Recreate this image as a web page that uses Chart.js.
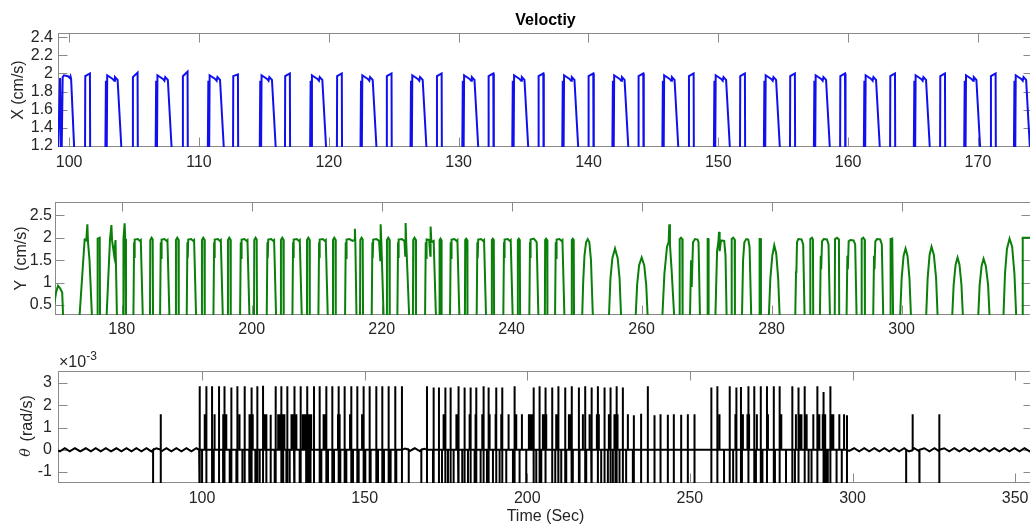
<!DOCTYPE html>
<html><head><meta charset="utf-8">
<script src="https://cdn.jsdelivr.net/npm/chart.js@4.4.1/dist/chart.umd.min.js"></script>
<style>
html,body{margin:0;padding:0;background:#fff;overflow:hidden;width:1030px;height:526px;position:relative;}
.panel{position:absolute;left:0;}
canvas{display:block;}
</style></head><body>
<div class="panel" style="top:0px"><canvas id="c1" width="1040" height="180"></canvas></div>
<div class="panel" style="top:180px"><canvas id="c2" width="1040" height="170"></canvas></div>
<div class="panel" style="top:350px"><canvas id="c3" width="1040" height="176"></canvas></div>
<script>
// ---------------- DATA ----------------
const chartTitle = 'Veloctiy';
const xAxisTitle = 'Time (Sec)';
const yTitles = ['X (cm/s)', 'Y  (cm/s)', '(rad/s)'];

const xTicksX = [100,110,120,130,140,150,160,170];
const yTicksX = [1.2,1.4,1.6,1.8,2,2.2,2.4];
const yTickLabelsX = ['1.2','1.4','1.6','1.8','2','2.2','2.4'];
const xTicksY = [180,200,220,240,260,280,300];
const yTicksY = [0.5,1,1.5,2,2.5];
const yTickLabelsY = ['0.5','1','1.5','2','2.5'];
const xTicksT = [100,150,200,250,300,350];
const yTicksT = [-1,0,1,2,3];
const yTickLabelsT = ['-1','0','1','2','3'];

// X velocity (cm/s): [time s, value]
const xVelocity = [
[99.14,1.10],[99.30,1.95],[99.40,0.90],[99.50,1.96],[99.60,1.98],[99.90,1.97],[100.05,1.95],[100.10,1.97],[100.15,1.94],[100.75,0],
[101.20,0],[101.24,1.97],[101.60,2.00],[101.64,0],
[102.73,0],[102.83,1.92],[102.87,0.60],[102.93,1.98],[103.35,1.94],[103.47,1.92],[103.53,1.96],[103.73,1.93],[104.48,0],
[104.87,0],[104.91,1.96],[105.27,2.01],[105.31,0],
[106.60,0],[106.70,1.92],[106.74,0.60],[106.80,1.98],[107.22,1.94],[107.34,1.92],[107.40,1.96],[107.60,1.93],[108.35,0],
[108.72,0],[108.76,1.97],[109.12,2.02],[109.16,0],
[110.62,0],[110.72,1.92],[110.76,0.60],[110.82,1.98],[111.24,1.94],[111.36,1.92],[111.42,1.96],[111.62,1.93],[112.37,0],
[112.60,0],[112.64,1.97],[113.00,1.99],[113.04,0],
[114.62,0],[114.72,1.92],[114.76,0.60],[114.82,1.98],[115.24,1.94],[115.36,1.92],[115.42,1.96],[115.62,1.93],[116.37,0],
[116.60,0],[116.64,1.97],[117.00,2.00],[117.04,0],
[118.50,0],[118.60,1.92],[118.64,0.60],[118.70,1.98],[119.12,1.94],[119.24,1.92],[119.30,1.96],[119.50,1.93],[120.25,0],
[120.60,0],[120.64,1.97],[121.00,2.00],[121.04,0],
[122.38,0],[122.48,1.92],[122.52,0.60],[122.58,1.98],[123.00,1.94],[123.12,1.92],[123.18,1.96],[123.38,1.93],[124.13,0],
[124.43,0],[124.47,1.97],[124.83,2.00],[124.87,0],
[126.23,0],[126.33,1.92],[126.37,0.60],[126.43,1.98],[126.85,1.94],[126.97,1.92],[127.03,1.96],[127.23,1.93],[127.98,0],
[128.29,0],[128.33,1.97],[128.69,2.00],[128.73,0],
[130.22,0],[130.32,1.92],[130.36,0.60],[130.42,1.98],[130.84,1.94],[130.96,1.92],[131.02,1.96],[131.22,1.93],[131.97,0],
[132.27,0],[132.31,1.97],[132.67,2.00],[132.71,0],
[134.07,0],[134.17,1.92],[134.21,0.60],[134.27,1.98],[134.69,1.94],[134.81,1.92],[134.87,1.96],[135.07,1.93],[135.82,0],
[136.12,0],[136.16,1.97],[136.52,2.00],[136.56,0],
[137.92,0],[138.02,1.92],[138.06,0.60],[138.12,1.98],[138.54,1.94],[138.66,1.92],[138.72,1.96],[138.92,1.93],[139.67,0],
[139.97,0],[140.01,1.97],[140.37,2.00],[140.41,0],
[141.78,0],[141.88,1.92],[141.92,0.60],[141.98,1.98],[142.40,1.94],[142.52,1.92],[142.58,1.96],[142.78,1.93],[143.53,0],
[143.82,0],[143.86,1.97],[144.22,2.00],[144.26,0],
[145.63,0],[145.73,1.92],[145.77,0.60],[145.83,1.98],[146.25,1.94],[146.37,1.92],[146.43,1.96],[146.63,1.93],[147.38,0],
[147.70,0],[147.74,1.97],[148.10,2.00],[148.14,0],
[149.60,0],[149.70,1.92],[149.74,0.60],[149.80,1.98],[150.22,1.94],[150.34,1.92],[150.40,1.96],[150.60,1.93],[151.35,0],
[151.65,0],[151.69,1.97],[152.05,2.00],[152.09,0],
[153.45,0],[153.55,1.92],[153.59,0.60],[153.65,1.98],[154.07,1.94],[154.19,1.92],[154.25,1.96],[154.45,1.93],[155.20,0],
[155.50,0],[155.54,1.97],[155.90,2.00],[155.94,0],
[157.30,0],[157.40,1.92],[157.44,0.60],[157.50,1.98],[157.92,1.94],[158.04,1.92],[158.10,1.96],[158.30,1.93],[159.05,0],
[159.36,0],[159.40,1.97],[159.76,2.00],[159.80,0],
[161.15,0],[161.25,1.92],[161.29,0.60],[161.35,1.98],[161.77,1.94],[161.89,1.92],[161.95,1.96],[162.15,1.93],[162.90,0],
[163.21,0],[163.25,1.97],[163.61,2.00],[163.65,0],
[165.00,0],[165.10,1.92],[165.14,0.60],[165.20,1.98],[165.62,1.94],[165.74,1.92],[165.80,1.96],[166.00,1.93],[166.75,0],
[167.06,0],[167.10,1.97],[167.46,2.00],[167.50,0],
[168.88,0],[168.98,1.92],[169.02,0.60],[169.08,1.98],[169.50,1.94],[169.62,1.92],[169.68,1.96],[169.88,1.93],[170.63,0],
[170.96,0],[171.00,1.97],[171.36,2.00],[171.40,0],
[172.71,0],[172.81,1.92],[172.85,0.60],[172.91,1.98],[173.33,1.94],[173.45,1.92],[173.51,1.96],[173.71,1.93],[174.46,0]
];

// Y velocity (cm/s): [time s, value]
const yVelocity = [
[169.6,0.50],[169.9,0.78],[170.2,0.93],[170.5,0.88],[170.85,0.78],[171.05,0],
[173.4,0],[174.3,1.96],[174.55,1.94],[174.72,2.30],[174.82,1.90],[175.05,1.50],[175.5,0],
[176.25,0],[176.3,1.98],[176.62,2.00],[176.68,0],
[177.6,0],[178.2,1.96],[178.42,2.28],[178.52,1.94],[178.85,1.60],[179.05,1.95],[179.3,0],
[180.22,0],[180.27,1.97],[180.45,2.32],[180.55,1.97],[180.66,0],
[181.79,0],[181.91,1.90],[181.96,1.55],[182.04,1.96],[182.49,1.97],[182.79,1.93],[182.94,1.95],[183.29,0],
[184.35,0],[184.40,1.95],[184.60,2.00],[184.77,1.96],[184.83,0],
[185.89,0],[186.01,1.90],[186.06,1.55],[186.14,1.96],[186.59,1.97],[186.89,1.93],[187.04,1.95],[187.39,0],
[188.30,0],[188.35,1.95],[188.55,2.00],[188.72,1.96],[188.78,0],
[189.99,0],[190.11,1.90],[190.16,1.55],[190.24,1.96],[190.69,1.97],[190.99,1.93],[191.14,1.95],[191.49,0],
[192.30,0],[192.35,1.95],[192.55,2.00],[192.72,1.96],[192.78,0],
[194.10,0],[194.22,1.90],[194.27,1.55],[194.35,1.96],[194.80,1.97],[195.10,1.93],[195.25,1.95],[195.60,0],
[196.30,0],[196.35,1.95],[196.55,2.00],[196.72,1.96],[196.78,0],
[198.20,0],[198.32,1.90],[198.37,1.55],[198.45,1.96],[198.90,1.97],[199.20,1.93],[199.35,1.95],[199.70,0],
[200.35,0],[200.40,1.95],[200.60,2.00],[200.77,1.96],[200.83,0],
[202.30,0],[202.42,1.90],[202.47,1.55],[202.55,1.96],[203.00,1.97],[203.30,1.93],[203.45,1.95],[203.80,0],
[204.45,0],[204.50,1.95],[204.70,2.00],[204.87,1.96],[204.93,0],
[206.25,0],[206.37,1.90],[206.42,1.55],[206.50,1.96],[206.95,1.97],[207.25,1.93],[207.40,1.95],[207.75,0],
[208.46,0],[208.51,1.95],[208.71,2.00],[208.88,1.96],[208.94,0],
[210.25,0],[210.37,1.90],[210.42,1.55],[210.50,1.96],[210.95,1.97],[211.25,1.93],[211.40,1.95],[211.75,0],
[212.46,0],[212.51,1.95],[212.71,2.00],[212.88,1.96],[212.94,0],
[214.35,0],[214.47,1.90],[214.52,1.55],[214.60,1.96],[215.05,1.97],[215.50,1.93],[215.82,1.95],[215.88,2.20],[215.95,1.90],[216.15,0],
[216.66,0],[216.71,1.95],[216.91,2.00],[217.08,1.96],[217.14,0],
[218.45,0],[218.57,1.90],[218.62,1.55],[218.70,1.96],[219.20,1.97],[219.60,1.93],[219.78,1.50],[219.84,2.30],[219.95,1.90],[220.35,0],
[220.76,0],[220.81,1.95],[221.01,2.00],[221.18,1.96],[221.24,0],
[222.40,0],[222.52,1.90],[222.57,1.55],[222.65,1.96],[223.10,1.97],[223.50,1.93],[223.62,1.60],[223.68,2.33],[223.78,1.90],[224.30,0],
[224.80,0],[224.85,1.95],[225.05,2.00],[225.22,1.96],[225.28,0],
[226.66,0],[226.78,1.90],[226.83,1.55],[226.91,1.96],[227.30,1.95],[227.48,1.60],[227.53,2.25],[227.65,1.90],[228.00,1.93],[228.40,0],
[228.86,0],[228.91,1.95],[229.05,1.98],[229.18,1.95],[229.22,0],
[230.50,0],[230.62,1.90],[230.67,1.55],[230.75,1.96],[231.20,1.97],[231.50,1.93],[231.65,1.95],[232.00,0],
[232.80,0],[232.85,1.95],[233.00,1.98],[233.15,1.95],[233.20,0],
[234.60,0],[234.72,1.90],[234.77,1.55],[234.85,1.96],[235.30,1.97],[235.60,1.93],[235.75,1.95],[236.10,0],
[236.90,0],[236.95,1.95],[237.10,1.98],[237.25,1.95],[237.30,0],
[238.70,0],[238.82,1.90],[238.87,1.55],[238.95,1.96],[239.40,1.97],[239.70,1.93],[239.85,1.95],[240.20,0],
[240.90,0],[240.95,1.95],[241.10,1.98],[241.25,1.95],[241.30,0],
[242.70,0],[242.82,1.90],[242.87,1.55],[242.95,1.96],[243.40,1.98],[243.70,1.93],[243.85,1.90],[244.15,0],
[245.10,0],[245.15,1.95],[245.30,1.98],[245.45,1.95],[245.50,0],
[246.66,0],[246.78,1.90],[246.83,1.55],[246.91,1.96],[247.36,1.97],[247.66,1.93],[247.81,1.95],[248.16,0],
[249.20,0],[249.25,1.95],[249.40,1.98],[249.55,1.95],[249.60,0],
[250.80,0],[251.00,1.00],[251.20,1.60],[251.45,1.90],[251.70,1.97],[251.95,1.90],[252.20,1.50],[252.55,0],
[254.90,0],[255.20,1.10],[255.50,1.55],[255.90,1.76],[256.30,1.55],[256.60,1.10],[256.90,0],
[259.00,0],[259.30,0.95],[259.60,1.38],[260.00,1.56],[260.40,1.38],[260.70,0.95],[261.00,0],
[263.10,0],[263.50,1.20],[263.90,1.80],[264.15,1.90],[264.25,2.30],[264.35,1.85],[264.60,1.30],[265.10,0],
[265.80,0],[265.85,1.97],[266.05,2.00],[266.25,1.97],[266.30,0],
[267.40,0],[267.60,1.50],[267.70,0.90],[267.90,1.90],[268.20,1.97],[268.60,1.96],[268.75,1.90],[269.00,0],
[270.10,0],[270.15,1.97],[270.25,1.97],[270.30,0],
[271.30,0],[271.60,1.70],[271.80,1.90],[271.90,2.13],[272.00,1.70],[272.20,1.94],[272.70,1.93],[272.90,1.60],[273.10,0],
[273.80,0],[273.85,1.97],[274.10,2.00],[274.30,1.96],[274.35,0],
[275.40,0],[275.60,1.50],[275.80,1.90],[276.10,1.97],[276.40,1.96],[276.60,1.80],[276.90,0],
[278.10,0],[278.15,1.97],[278.30,1.97],[278.35,0],
[279.50,0],[279.80,1.10],[280.10,1.60],[280.40,1.83],[280.70,1.65],[281.00,1.10],[281.30,0],
[283.60,0],[283.75,1.25],[283.80,1.20],[283.90,1.90],[284.10,1.97],[284.60,1.96],[284.85,1.85],[285.10,0],
[285.90,0],[285.95,1.97],[286.20,2.00],[286.35,1.96],[286.40,0],
[287.40,0],[287.55,1.60],[287.62,1.30],[287.75,1.92],[288.00,1.97],[288.50,1.96],[288.75,1.85],[289.00,0],
[289.70,0],[289.75,1.97],[290.05,2.00],[290.35,1.96],[290.40,0],
[291.50,0],[291.65,1.60],[291.72,1.30],[291.85,1.92],[292.10,1.95],[292.60,1.94],[292.85,1.85],[293.10,0],
[293.80,0],[293.85,1.97],[294.10,2.00],[294.30,1.96],[294.35,0],
[295.60,0],[295.75,1.60],[295.82,1.30],[295.95,1.92],[296.20,1.97],[296.70,1.96],[296.95,1.85],[297.20,0],
[298.25,0],[298.30,1.97],[298.55,1.98],[298.70,0],
[299.70,0],[300.00,1.10],[300.30,1.60],[300.60,1.76],[300.90,1.60],[301.20,1.10],[301.50,0],
[303.70,0],[304.00,1.10],[304.30,1.62],[304.60,1.80],[304.95,1.62],[305.30,1.10],[305.60,0],
[307.70,0],[308.00,0.95],[308.30,1.40],[308.60,1.56],[308.90,1.40],[309.20,0.95],[309.50,0],
[311.70,0],[312.00,0.95],[312.30,1.37],[312.60,1.53],[312.95,1.37],[313.30,0.95],[313.60,0],
[315.60,0],[315.90,1.20],[316.20,1.75],[316.60,1.98],[317.00,1.80],[317.35,1.20],[317.70,0],
[318.60,0],[318.63,2.00],[320.00,2.00]
];

// theta velocity (x10^-3 rad/s)
const thetaBaseline = [
[55.7,-0.02],[56.3,-0.07],[57.8,0.07],[59.3,-0.07],[60.9,0.07],[62.55,-0.07],[64.25,0.07],[65.8,-0.07],[67.3,0.07],[68.85,-0.07],
[70.4,0.07],[72.0,-0.07],[73.65,0.07],[75.2,-0.07],[76.75,0.07],[78.3,-0.07],[79.8,0.07],[81.35,-0.07],[82.9,0.07],[84.4,-0.07],
[85.95,0.07],[87.5,-0.07],[89.05,0.07],[90.55,-0.07],[92.1,0.07],[93.65,-0.07],[95.2,0.07],[96.7,-0.07],[98.25,0.07],[99.1,0],
[162.4,0.06],[163.9,-0.05],[165.4,0.07],[166.9,-0.06],[168.4,0.05],
[299.0,-0.05],[300.5,0.07],[302.05,-0.07],[303.6,0.07],[305.15,-0.07],[306.7,0.07],[308.25,-0.07],[309.8,0.07],[311.3,-0.07],
[312.8,0.07],[314.35,-0.07],[315.9,0.07],[317.45,-0.07],[319.0,0.07],[320.55,-0.07],[322.1,0.07],[323.65,-0.07],[325.2,0.07],
[326.7,-0.07],[328.2,0.07],[329.75,-0.07],[331.3,0.07],[332.85,-0.07],[334.4,0.07],[335.95,-0.07],[337.5,0.07],[339.05,-0.07],
[340.6,0.07],[342.1,-0.07],[343.6,0.07],[345.15,-0.07],[346.7,0.07],[348.25,-0.07],[349.8,0.07],[351.35,-0.07],[352.9,0.07],
[354.45,-0.07],[355.6,0.02]
];
// spikes that run from below the axis up to the given peak
const thetaFullSpikes = [
[87.3,1.60],
[99.28,2.85],[101.33,2.85],[103.07,2.85],[105.22,2.85],[106.97,2.85],[109.01,2.80],[110.86,2.85],[113.11,2.85],[115.16,2.80],[117.00,2.85],
[118.75,2.88],[119.77,1.60],[121.10,1.58],[122.64,2.85],[124.38,2.85],[126.22,2.85],[128.27,2.85],[130.32,2.85],[132.37,2.85],[134.42,2.85],
[136.16,2.85],[138.21,2.85],[140.05,2.85],[142.00,2.85],[143.84,2.85],[145.89,2.85],[147.74,2.85],[149.68,2.85],[151.53,2.85],[153.58,2.85],
[155.42,2.85],[157.37,2.85],[159.41,2.85],[161.46,2.85],
[169.16,2.85],[171.21,2.80],[172.84,2.80],[174.79,2.80],[176.43,2.80],[178.89,2.85],[180.73,2.80],[182.58,2.80],[184.32,2.80],[186.57,2.85],
[188.11,2.80],[190.46,2.80],[192.31,2.80],[196.10,2.85],[201.94,2.80],[203.78,2.85],[205.62,2.80],[207.67,2.80],[209.52,2.85],[211.67,2.80],
[213.72,2.85],[215.87,2.80],[217.81,2.85],[219.86,2.80],[221.71,2.85],[223.76,2.80],[225.60,2.80],[227.55,2.85],[229.39,2.80],
[232.77,1.55],[235.00,1.62],[237.07,2.85],[239.12,1.55],[240.97,1.60],[243.22,1.58],[245.06,1.60],[247.32,1.58],[249.37,1.60],[251.42,1.60],
[256.60,2.80],[258.45,2.85],[262.25,2.85],[264.30,2.80],[265.70,2.82],[268.00,2.85],[269.80,2.85],[271.80,2.85],[273.70,2.85],[275.80,2.85],
[277.60,2.85],[281.50,2.85],[283.40,2.80],[285.30,2.85],[289.20,2.85],[291.10,2.60],[293.20,2.85],[298.30,1.55],
[326.70,1.60]
];
// spikes from the baseline up to the given peak
const thetaUpSpikes = [
[100.82,1.60],[101.05,1.60],[103.69,1.60],[103.95,1.60],[106.55,1.60],[106.76,1.60],[107.27,1.60],[107.45,1.60],[111.37,1.60],[111.60,1.60],
[114.50,1.60],[114.96,1.60],[115.30,1.60],[115.47,1.60],[115.65,1.60],[119.20,1.60],[123.40,1.60],[123.66,1.60],[123.90,1.60],[124.60,1.60],
[125.00,1.60],[125.20,1.60],[125.40,1.60],[127.50,1.60],[127.76,1.60],[128.00,1.60],[128.50,1.60],[128.78,1.60],[129.00,1.60],[131.00,1.60],
[131.30,1.60],[131.55,1.60],[131.80,1.60],[132.00,1.60],[132.27,1.60],[132.60,1.60],[133.00,1.60],[133.29,1.60],[133.55,1.60],[137.20,1.60],
[137.49,1.60],[137.75,1.60],[138.00,1.60],[141.79,1.60],[142.30,1.60],[145.50,1.60],[149.20,1.60],
[174.10,1.60],[174.38,1.60],[174.60,1.60],[174.85,1.60],[178.20,1.60],[178.48,1.60],[178.70,1.60],[178.95,1.60],[182.27,1.60],[184.10,1.60],
[186.16,1.60],[188.42,1.60],[190.26,1.60],[192.00,1.60],[194.25,1.60],[196.61,1.60],[198.35,1.60],[200.50,1.60],[200.71,1.60],[201.00,1.60],
[201.30,1.60],[201.73,1.60],[202.00,1.60],[204.80,1.60],[205.01,1.60],[205.30,1.60],[205.60,1.60],[205.83,1.60],[208.90,1.60],[209.15,1.60],
[209.40,1.60],[209.62,1.60],[212.80,1.60],[213.00,1.60],[213.30,1.60],[213.60,1.60],[217.10,1.60],[219.15,1.60],[221.40,1.60],[222.00,1.60],
[225.09,1.60],[226.80,1.60],[227.10,1.60],[227.34,1.60],[227.60,1.60],[227.85,1.60],[230.93,1.60],
[259.10,1.60],[264.00,1.60],[266.30,1.60],[267.70,1.60],[268.20,1.60],[270.60,1.60],[274.00,1.60],[278.10,1.60],[282.60,1.60],[284.00,1.60],
[284.30,1.60],[285.90,1.60],[287.95,1.60],[289.80,1.60],[290.85,1.60],[291.60,1.60],[293.50,1.60],[294.10,1.60],[295.95,1.60],[297.40,1.60],
[318.50,1.60]
];
// spikes from the baseline down past the axis bottom
const thetaDownSpikes = [
84.94,100.00,103.59,106.45,108.50,110.55,112.40,114.65,116.39,117.72,122.33,124.89,125.92,126.94,128.48,130.01,132.06,132.78,133.39,
136.67,138.72,140.57,142.51,144.36,146.40,148.15,150.19,151.83,154.09,155.93,157.98,159.72,163.55,167.42,171.00,173.77,175.61,177.35,
180.00,181.76,183.80,185.65,187.60,189.44,191.49,193.54,195.59,197.63,199.68,202.76,204.30,208.60,210.44,211.98,214.00,216.07,218.12,
219.66,222.73,224.78,226.32,227.14,228.36,230.40,232.46,260.50,263.30,266.00,270.30,272.30,276.15,279.55,282.30,286.50,287.40,291.40,
292.00,292.40,295.10,296.70,316.50,320.60
];
const thetaBelow = -3;

// ---------------- BUILD ----------------
const toXY = arr => arr.map(p => ({x: p[0], y: p[1]}));
function buildTheta() {
  const items = [];
  thetaBaseline.forEach(p => items.push({t: p[0], pts: [p]}));
  thetaFullSpikes.forEach(([t, h]) => items.push({t, pts: [[t, 0], [t, thetaBelow], [t, h], [t, 0]]}));
  thetaUpSpikes.forEach(([t, h]) => items.push({t, pts: [[t, 0], [t, h], [t, 0]]}));
  thetaDownSpikes.forEach(t => items.push({t, pts: [[t, 0], [t, thetaBelow], [t, 0]]}));
  items.sort((a, b) => a.t - b.t);
  return toXY(items.flatMap(i => i.pts));
}

const FONT_FAMILY = "'Liberation Sans', Arial, Helvetica, sans-serif";
const TXT = '#262626';
const AXIS = '#8a8a8a';
const TICK_LEN = 9;

const boxPlugin = {
  id: 'matlabBox',
  beforeDatasetsDraw(chart) {
    const {ctx, chartArea: a} = chart;
    const xs = chart.scales.x, ys = chart.scales.y;
    const L = Math.round(a.left) + 0.5, R = Math.round(a.right) - 0.5;
    const T = Math.round(a.top) + 0.5, B = Math.round(a.bottom) - 0.5;
    ctx.save();
    ctx.strokeStyle = AXIS; ctx.lineWidth = 1;
    ctx.strokeRect(L, T, R - L, B - T);
    ctx.beginPath();
    xs.ticks.forEach(t => {
      const p = Math.round(xs.getPixelForValue(t.value)) + 0.5;
      ctx.moveTo(p, T); ctx.lineTo(p, T + TICK_LEN);
      ctx.moveTo(p, B); ctx.lineTo(p, B - TICK_LEN);
    });
    ys.ticks.forEach(t => {
      const p = Math.round(ys.getPixelForValue(t.value)) + 0.5;
      ctx.moveTo(L, p); ctx.lineTo(L + TICK_LEN, p);
      ctx.moveTo(R, p); ctx.lineTo(R - TICK_LEN, p);
    });
    ctx.stroke();
    ctx.restore();
  }
};

const thetaTextPlugin = {
  id: 'thetaText',
  afterDraw(chart) {
    const ctx = chart.ctx;
    ctx.save();
    ctx.fillStyle = TXT;
    ctx.textBaseline = 'alphabetic';
    ctx.font = '16px ' + FONT_FAMILY;
    ctx.fillText('\u00d710', 59, 17);
    const w = ctx.measureText('\u00d710').width;
    ctx.font = '12px ' + FONT_FAMILY;
    ctx.fillText('-3', 59 + w, 10);
    // rotated y label: italic theta + (rad/s)
    ctx.translate(28, 76);
    ctx.rotate(-Math.PI / 2);
    ctx.textBaseline = 'middle';
    ctx.font = 'italic 14px "DejaVu Serif", serif';
    const wt = ctx.measureText('\u03b8').width;
    ctx.font = '16px ' + FONT_FAMILY;
    const wr = ctx.measureText(yTitles[2]).width;
    const gap = 7;
    const x0 = -(wt + gap + wr) / 2;
    ctx.font = 'italic 14px "DejaVu Serif", serif';
    ctx.fillText('\u03b8', x0, -2);
    ctx.font = '16px ' + FONT_FAMILY;
    ctx.fillText(yTitles[2], x0 + wt + gap, 0);
    ctx.restore();
  }
};

function makePanel(id, c) {
  return new Chart(document.getElementById(id), {
    type: 'line',
    data: {datasets: [{data: c.points, borderColor: c.color, borderWidth: c.lw, pointRadius: 0, tension: 0, clip: 0, fill: false}]},
    options: {
      responsive: false, animation: false, devicePixelRatio: 1,
      layout: {padding: c.padding},
      events: [],
      plugins: {legend: {display: false}, tooltip: {enabled: false}, title: c.title || {display: false}},
      scales: {
        x: {
          type: 'linear', min: c.xMin, max: c.xMax,
          grid: {display: false, drawTicks: false}, border: {display: false},
          ticks: {autoSkip: false, maxRotation: 0, padding: c.xPad, color: TXT, font: {family: FONT_FAMILY, size: 16}, callback: v => String(v)},
          afterBuildTicks: s => { s.ticks = c.xTicks.map(v => ({value: v})); },
          afterFit: s => { s.height = c.xAxisH; },
          title: c.xTitle || {display: false}
        },
        y: {
          type: 'linear', min: c.yMin, max: c.yMax,
          grid: {display: false, drawTicks: false}, border: {display: false},
          ticks: {autoSkip: false, padding: c.yPad, color: TXT, font: {family: FONT_FAMILY, size: 16}, callback: (v, i) => c.yLabels[i]},
          afterBuildTicks: s => { s.ticks = c.yTicks.map(v => ({value: v})); },
          afterFit: s => { s.width = c.yAxisW; },
          title: c.yTitle || {display: false}
        }
      }
    },
    plugins: [boxPlugin].concat(c.extra || [])
  });
}

makePanel('c1', {
  points: toXY(xVelocity), color: '#1010ee', lw: 2,
  xMin: 99.14, xMax: 174.24, yMin: 1.189, yMax: 2.444,
  xTicks: xTicksX, yTicks: yTicksX, yLabels: yTickLabelsX,
  padding: {top: 0, right: 7, bottom: 0, left: 0}, xAxisH: 33, yAxisW: 58, xPad: 6, yPad: 5,
  title: {display: true, text: chartTitle, fullSize: false, color: '#000', font: {family: FONT_FAMILY, size: 16, weight: 'bold'}, padding: {top: 11, bottom: 3}},
  yTitle: {display: true, text: yTitles[0], color: TXT, font: {family: FONT_FAMILY, size: 16}, padding: {top: 9, bottom: 0}}
});

makePanel('c2', {
  points: toXY(yVelocity), color: '#0a800a', lw: 2,
  xMin: 169.74, xMax: 319.9, yMin: 0.278, yMax: 2.796,
  xTicks: xTicksY, yTicks: yTicksY, yLabels: yTickLabelsY,
  padding: {top: 22, right: 9, bottom: 0, left: 0}, xAxisH: 35, yAxisW: 55, xPad: 5, yPad: 3,
  yTitle: {display: true, text: yTitles[1], color: TXT, font: {family: FONT_FAMILY, size: 16}, padding: {top: 12, bottom: 0}}
});

makePanel('c3', {
  points: buildTheta(), color: '#000000', lw: 2,
  xMin: 55.7, xMax: 355.5, yMin: -1.49, yMax: 3.54,
  xTicks: xTicksT, yTicks: yTicksT, yLabels: yTickLabelsT,
  padding: {top: 21, right: 7, bottom: 0, left: 0}, xAxisH: 43, yAxisW: 58, xPad: 6, yPad: 6,
  xTitle: {display: true, text: xAxisTitle, color: TXT, font: {family: FONT_FAMILY, size: 16}, padding: {top: 0, bottom: 0}},
  extra: [thetaTextPlugin]
});
</script>
</body></html>
